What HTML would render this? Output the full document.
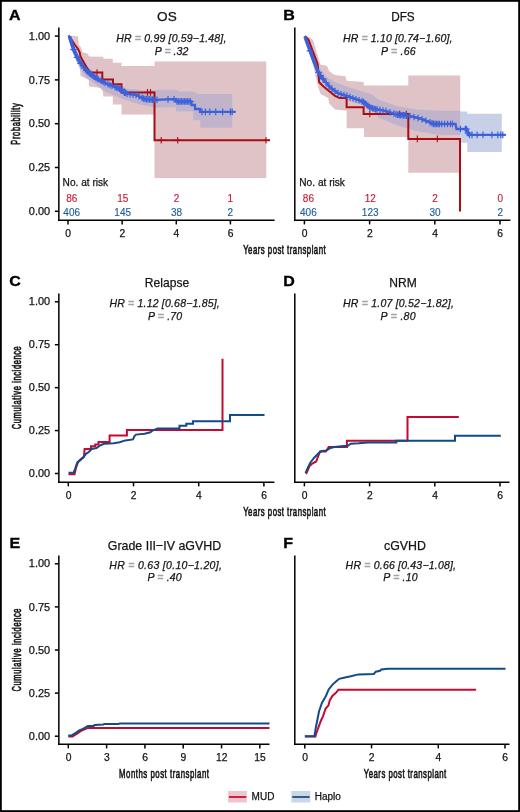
<!DOCTYPE html>
<html><head><meta charset="utf-8"><style>
html,body{margin:0;padding:0;background:#fff;}
svg{display:block;font-family:"Liberation Sans", sans-serif;will-change:transform;}
</style></head><body>
<svg width="520" height="812" viewBox="0 0 520 812">
<rect x="0" y="0" width="520" height="812" fill="#fff"/>
<text x="9.0" y="20.3" font-size="15.4" text-anchor="start" fill="#000" font-weight="bold" font-style="normal"  stroke="#000" stroke-width="0.35" transform="translate(9.0,20.3) scale(1.04,1) translate(-9.0,-20.3)">A</text>
<text x="283.2" y="20.2" font-size="15.4" text-anchor="start" fill="#000" font-weight="bold" font-style="normal"  stroke="#000" stroke-width="0.35" transform="translate(283.2,20.2) scale(1.04,1) translate(-283.2,-20.2)">B</text>
<text x="9.2" y="285.9" font-size="15.4" text-anchor="start" fill="#000" font-weight="bold" font-style="normal"  stroke="#000" stroke-width="0.35" transform="translate(9.2,285.9) scale(1.04,1) translate(-9.2,-285.9)">C</text>
<text x="283.2" y="285.9" font-size="15.4" text-anchor="start" fill="#000" font-weight="bold" font-style="normal"  stroke="#000" stroke-width="0.35" transform="translate(283.2,285.9) scale(1.04,1) translate(-283.2,-285.9)">D</text>
<text x="9.6" y="547.9" font-size="15.4" text-anchor="start" fill="#000" font-weight="bold" font-style="normal"  stroke="#000" stroke-width="0.35" transform="translate(9.6,547.9) scale(1.04,1) translate(-9.6,-547.9)">E</text>
<text x="283.2" y="547.9" font-size="15.4" text-anchor="start" fill="#000" font-weight="bold" font-style="normal"  stroke="#000" stroke-width="0.35" transform="translate(283.2,547.9) scale(1.04,1) translate(-283.2,-547.9)">F</text>
<text x="166.9" y="21.4" font-size="13.6" text-anchor="middle" fill="#141414" font-weight="normal" font-style="normal" stroke="#141414" stroke-width="0.25" >OS</text>
<text x="402.9" y="21.4" font-size="13.6" text-anchor="middle" fill="#141414" font-weight="normal" font-style="normal" stroke="#141414" stroke-width="0.25" textLength="23.5" lengthAdjust="spacingAndGlyphs">DFS</text>
<text x="167.0" y="286.7" font-size="13.6" text-anchor="middle" fill="#141414" font-weight="normal" font-style="normal" stroke="#141414" stroke-width="0.25" textLength="44.3" lengthAdjust="spacingAndGlyphs">Relapse</text>
<text x="403.0" y="286.7" font-size="13.6" text-anchor="middle" fill="#141414" font-weight="normal" font-style="normal" stroke="#141414" stroke-width="0.25" textLength="27.5" lengthAdjust="spacingAndGlyphs">NRM</text>
<text x="164.5" y="549.9" font-size="13.6" text-anchor="middle" fill="#141414" font-weight="normal" font-style="normal" stroke="#141414" stroke-width="0.25" textLength="113.5" lengthAdjust="spacingAndGlyphs">Grade III−IV aGVHD</text>
<text x="405.0" y="549.7" font-size="13.6" text-anchor="middle" fill="#141414" font-weight="normal" font-style="normal" stroke="#141414" stroke-width="0.25" textLength="42.0" lengthAdjust="spacingAndGlyphs">cGVHD</text>
<text x="171.3" y="41.8" font-size="10.5" text-anchor="middle" fill="#141414" font-weight="normal" font-style="italic" stroke="#141414" stroke-width="0.25" textLength="110.2" lengthAdjust="spacing">HR <tspan fill="#a4a4a4" stroke="#a4a4a4" stroke-width="0.5">=</tspan> 0.99 [0.59−1.48],</text>
<text x="171.5" y="55.0" font-size="10.5" text-anchor="middle" fill="#141414" font-weight="normal" font-style="italic" stroke="#141414" stroke-width="0.25" textLength="33.5" lengthAdjust="spacing">P <tspan fill="#a4a4a4" stroke="#a4a4a4" stroke-width="0.5">=</tspan> .32</text>
<text x="397.7" y="41.8" font-size="10.5" text-anchor="middle" fill="#141414" font-weight="normal" font-style="italic" stroke="#141414" stroke-width="0.25" textLength="109.5" lengthAdjust="spacing">HR <tspan fill="#a4a4a4" stroke="#a4a4a4" stroke-width="0.5">=</tspan> 1.10 [0.74−1.60],</text>
<text x="398.3" y="55.0" font-size="10.5" text-anchor="middle" fill="#141414" font-weight="normal" font-style="italic" stroke="#141414" stroke-width="0.25" textLength="34.5" lengthAdjust="spacing">P <tspan fill="#a4a4a4" stroke="#a4a4a4" stroke-width="0.5">=</tspan> .66</text>
<text x="164.6" y="307.4" font-size="10.5" text-anchor="middle" fill="#141414" font-weight="normal" font-style="italic" stroke="#141414" stroke-width="0.25" textLength="110.3" lengthAdjust="spacing">HR <tspan fill="#a4a4a4" stroke="#a4a4a4" stroke-width="0.5">=</tspan> 1.12 [0.68−1.85],</text>
<text x="165.0" y="320.4" font-size="10.5" text-anchor="middle" fill="#141414" font-weight="normal" font-style="italic" stroke="#141414" stroke-width="0.25" textLength="34.2" lengthAdjust="spacing">P <tspan fill="#a4a4a4" stroke="#a4a4a4" stroke-width="0.5">=</tspan> .70</text>
<text x="398.4" y="307.4" font-size="10.5" text-anchor="middle" fill="#141414" font-weight="normal" font-style="italic" stroke="#141414" stroke-width="0.25" textLength="111.0" lengthAdjust="spacing">HR <tspan fill="#a4a4a4" stroke="#a4a4a4" stroke-width="0.5">=</tspan> 1.07 [0.52−1.82],</text>
<text x="398.1" y="320.4" font-size="10.5" text-anchor="middle" fill="#141414" font-weight="normal" font-style="italic" stroke="#141414" stroke-width="0.25" textLength="35.0" lengthAdjust="spacing">P <tspan fill="#a4a4a4" stroke="#a4a4a4" stroke-width="0.5">=</tspan> .80</text>
<text x="165.6" y="568.8" font-size="10.5" text-anchor="middle" fill="#141414" font-weight="normal" font-style="italic" stroke="#141414" stroke-width="0.25" textLength="112.5" lengthAdjust="spacing">HR <tspan fill="#a4a4a4" stroke="#a4a4a4" stroke-width="0.5">=</tspan> 0.63 [0.10−1.20],</text>
<text x="164.5" y="581.3" font-size="10.5" text-anchor="middle" fill="#141414" font-weight="normal" font-style="italic" stroke="#141414" stroke-width="0.25" textLength="34.0" lengthAdjust="spacing">P <tspan fill="#a4a4a4" stroke="#a4a4a4" stroke-width="0.5">=</tspan> .40</text>
<text x="400.8" y="568.8" font-size="10.5" text-anchor="middle" fill="#141414" font-weight="normal" font-style="italic" stroke="#141414" stroke-width="0.25" textLength="110.4" lengthAdjust="spacing">HR <tspan fill="#a4a4a4" stroke="#a4a4a4" stroke-width="0.5">=</tspan> 0.66 [0.43−1.08],</text>
<text x="400.4" y="581.3" font-size="10.5" text-anchor="middle" fill="#141414" font-weight="normal" font-style="italic" stroke="#141414" stroke-width="0.25" textLength="34.2" lengthAdjust="spacing">P <tspan fill="#a4a4a4" stroke="#a4a4a4" stroke-width="0.5">=</tspan> .10</text>
<clipPath id="cpA"><polygon points="68.5,36.0 72.6,35.7 78.2,36.5 78.8,44.3 81.2,48.0 82.5,52.3 87.4,53.5 89.2,56.6 103.4,56.7 103.4,58.7 112.8,58.7 112.8,62.8 121.5,62.8 121.5,65.9 154.5,65.9 154.5,61.6 266.3,61.6 266.3,178.0 154.5,178.0 154.5,114.6 121.5,114.6 121.5,104.6 112.8,104.6 112.8,96.5 103.4,96.5 103.4,97.0 102.7,90.0 100.4,87.7 88.8,86.5 88.8,80.0 81.3,76.2 80.6,76.3 80.0,67.7 76.0,58.0 72.0,47.0 69.5,39.0" fill="#000" /></clipPath>
<polygon points="68.5,36.0 72.6,35.7 78.2,36.5 78.8,44.3 81.2,48.0 82.5,52.3 87.4,53.5 89.2,56.6 103.4,56.7 103.4,58.7 112.8,58.7 112.8,62.8 121.5,62.8 121.5,65.9 154.5,65.9 154.5,61.6 266.3,61.6 266.3,178.0 154.5,178.0 154.5,114.6 121.5,114.6 121.5,104.6 112.8,104.6 112.8,96.5 103.4,96.5 103.4,97.0 102.7,90.0 100.4,87.7 88.8,86.5 88.8,80.0 81.3,76.2 80.6,76.3 80.0,67.7 76.0,58.0 72.0,47.0 69.5,39.0" fill="#e0c3c6" />
<polygon points="68.8,35.5 72.0,43.0 76.0,51.0 80.0,58.0 85.0,64.0 90.0,69.0 100.0,75.5 113.5,83.0 127.3,88.8 144.6,90.6 162.0,89.7 176.0,89.7 179.0,91.5 192.5,91.5 198.4,93.9 232.3,93.9 232.3,127.8 200.2,127.8 200.2,120.2 193.3,120.2 193.3,111.5 176.0,111.5 176.0,107.2 156.0,107.8 139.8,104.4 126.4,100.4 113.0,95.0 103.5,91.0 94.0,82.9 86.0,77.5 80.0,69.0 76.0,61.0 72.0,51.0 69.5,41.0" fill="#c8d0e8" />
<polygon points="68.8,35.5 72.0,43.0 76.0,51.0 80.0,58.0 85.0,64.0 90.0,69.0 100.0,75.5 113.5,83.0 127.3,88.8 144.6,90.6 162.0,89.7 176.0,89.7 179.0,91.5 192.5,91.5 198.4,93.9 232.3,93.9 232.3,127.8 200.2,127.8 200.2,120.2 193.3,120.2 193.3,111.5 176.0,111.5 176.0,107.2 156.0,107.8 139.8,104.4 126.4,100.4 113.0,95.0 103.5,91.0 94.0,82.9 86.0,77.5 80.0,69.0 76.0,61.0 72.0,51.0 69.5,41.0" fill="#c1b4ca" clip-path="url(#cpA)"/>
<polyline points="68.8,35.5 71.6,39.7 75.0,45.0 78.1,49.0 79.8,52.8 80.5,56.6 82.7,60.5 84.9,64.3 87.1,68.2 89.4,71.2 91.0,72.5 102.3,72.5 102.3,79.5 113.0,79.5 113.0,84.2 121.5,84.2 121.5,92.4 154.5,92.4 154.5,140.2 270.0,140.2" fill="none" stroke="#a80d13" stroke-width="2" stroke-linejoin="miter" stroke-linecap="butt" />
<path d="M97.0,69.2V75.8M93.7,72.5H100.3M124.5,89.1V95.7M121.2,92.4H127.8M147.5,89.1V95.7M144.2,92.4H150.8M150.5,89.1V95.7M147.2,92.4H153.8M161.2,136.9V143.5M157.9,140.2H164.5M177.7,136.9V143.5M174.4,140.2H181.0M266.0,136.9V143.5M262.7,140.2H269.3" stroke="#a80d13" stroke-width="1.1" fill="none"/>
<polyline points="68.8,35.5 71.4,44.3 74.5,52.3 78.2,59.7 82.5,66.5 87.4,71.4 91.7,75.1 95.4,77.5 100.0,80.3 106.0,83.5 113.5,86.3 120.0,89.0 127.3,94.0 136.0,94.9 144.6,99.0 155.0,99.8 167.0,99.4 176.0,99.2 176.0,101.5 191.5,101.5 191.5,105.0 195.0,105.0 195.0,109.0 200.2,109.0 200.2,111.9 235.6,111.9" fill="none" stroke="#3b62dc" stroke-width="2.3" stroke-linejoin="miter" stroke-linecap="butt" />
<polyline points="69.6,36.5 71.7,43.5 74.8,52.0 78.6,59.7 82.5,65.8 87.0,71.2 91.7,75.0 97.0,79.0 101.0,81.0" fill="none" stroke="#3b62dc" stroke-width="3.6" stroke-linejoin="miter" stroke-linecap="butt" stroke-linecap="round"/>
<path d="M73.5,46.4V53.0M70.2,49.7H76.8M77.0,54.0V60.6M73.7,57.3H80.3M80.5,60.0V66.6M77.2,63.3H83.8M84.0,64.7V71.3M80.7,68.0H87.3M86.5,67.2V73.8M83.2,70.5H89.8M88.0,68.6V75.2M84.7,71.9H91.3M90.0,70.3V76.9M86.7,73.6H93.3M92.0,72.0V78.6M88.7,75.3H95.3M94.0,73.3V79.9M90.7,76.6H97.3M96.0,74.6V81.2M92.7,77.9H99.3M98.0,75.8V82.4M94.7,79.1H101.3M101.0,77.5V84.1M97.7,80.8H104.3M103.0,78.6V85.2M99.7,81.9H106.3M105.0,79.7V86.3M101.7,83.0H108.3M108.0,80.9V87.5M104.7,84.2H111.3M110.0,81.7V88.3M106.7,85.0H113.3M112.0,82.4V89.0M108.7,85.7H115.3M115.0,83.6V90.2M111.7,86.9H118.3M116.5,84.2V90.8M113.2,87.5H119.8M118.0,84.9V91.5M114.7,88.2H121.3M119.5,85.5V92.1M116.2,88.8H122.8M121.0,86.4V93.0M117.7,89.7H124.3M122.5,87.4V94.0M119.2,90.7H125.8M124.0,88.4V95.0M120.7,91.7H127.3M125.5,89.5V96.1M122.2,92.8H128.8M127.0,90.5V97.1M123.7,93.8H130.3M130.0,91.0V97.6M126.7,94.3H133.3M133.0,91.3V97.9M129.7,94.6H136.3M136.0,91.6V98.2M132.7,94.9H139.3M139.0,93.0V99.6M135.7,96.3H142.3M142.0,94.5V101.1M138.7,97.8H145.3M143.5,95.2V101.8M140.2,98.5H146.8M145.0,95.7V102.3M141.7,99.0H148.3M146.5,95.8V102.4M143.2,99.1H149.8M148.0,96.0V102.6M144.7,99.3H151.3M149.5,96.1V102.7M146.2,99.4H152.8M151.0,96.2V102.8M147.7,99.5H154.3M152.5,96.3V102.9M149.2,99.6H155.8M154.0,96.4V103.0M150.7,99.7H157.3M157.0,96.4V103.0M153.7,99.7H160.3M168.0,96.1V102.7M164.7,99.4H171.3M174.0,95.9V102.5M170.7,99.2H177.3M177.0,98.2V104.8M173.7,101.5H180.3M178.5,98.2V104.8M175.2,101.5H181.8M180.0,98.2V104.8M176.7,101.5H183.3M181.5,98.2V104.8M178.2,101.5H184.8M183.0,98.2V104.8M179.7,101.5H186.3M184.5,98.2V104.8M181.2,101.5H187.8M186.0,98.2V104.8M182.7,101.5H189.3M187.5,98.2V104.8M184.2,101.5H190.8M189.0,98.2V104.8M185.7,101.5H192.3M190.5,98.2V104.8M187.2,101.5H193.8M202.0,108.6V115.2M198.7,111.9H205.3M205.4,108.6V115.2M202.1,111.9H208.7M209.7,108.6V115.2M206.4,111.9H213.0M215.7,108.6V115.2M212.4,111.9H219.0M222.7,108.6V115.2M219.4,111.9H226.0M230.4,108.6V115.2M227.1,111.9H233.7M232.2,108.6V115.2M228.9,111.9H235.5" stroke="#3b62dc" stroke-width="1.2" fill="none"/>
<clipPath id="cpB"><polygon points="305.0,36.0 309.2,37.0 313.0,40.0 315.4,47.4 317.8,55.4 320.3,64.6 327.0,65.8 329.3,71.5 335.0,75.0 345.5,76.2 346.6,80.8 363.6,81.9 364.0,85.4 408.3,85.4 408.3,75.4 460.2,75.4 460.2,172.8 408.3,172.8 408.3,137.0 364.0,137.0 364.0,128.3 346.6,128.3 346.6,110.8 335.0,109.6 329.3,103.8 328.2,98.1 320.5,94.0 318.5,88.0 316.0,78.0 314.3,70.0 312.0,61.0 309.0,50.0 306.5,41.0" fill="#000" /></clipPath>
<polygon points="305.0,36.0 309.2,37.0 313.0,40.0 315.4,47.4 317.8,55.4 320.3,64.6 327.0,65.8 329.3,71.5 335.0,75.0 345.5,76.2 346.6,80.8 363.6,81.9 364.0,85.4 408.3,85.4 408.3,75.4 460.2,75.4 460.2,172.8 408.3,172.8 408.3,137.0 364.0,137.0 364.0,128.3 346.6,128.3 346.6,110.8 335.0,109.6 329.3,103.8 328.2,98.1 320.5,94.0 318.5,88.0 316.0,78.0 314.3,70.0 312.0,61.0 309.0,50.0 306.5,41.0" fill="#e0c3c6" />
<polygon points="305.0,36.0 309.0,44.0 312.5,53.0 316.0,62.0 320.0,68.5 327.0,77.3 335.0,81.9 346.6,86.5 358.2,90.0 372.0,94.6 378.5,99.4 397.7,106.2 417.0,109.5 440.0,110.8 460.4,110.8 460.4,111.5 467.3,111.5 467.3,113.7 501.8,113.7 501.8,152.0 467.3,152.0 467.3,142.8 460.4,142.8 460.4,135.0 440.0,135.0 417.0,131.2 397.7,125.4 378.5,117.7 372.0,108.5 358.2,103.8 346.6,100.4 329.3,90.0 322.0,82.0 318.0,75.0 314.0,66.0 310.0,54.0 306.0,42.0" fill="#c8d0e8" />
<polygon points="305.0,36.0 309.0,44.0 312.5,53.0 316.0,62.0 320.0,68.5 327.0,77.3 335.0,81.9 346.6,86.5 358.2,90.0 372.0,94.6 378.5,99.4 397.7,106.2 417.0,109.5 440.0,110.8 460.4,110.8 460.4,111.5 467.3,111.5 467.3,113.7 501.8,113.7 501.8,152.0 467.3,152.0 467.3,142.8 460.4,142.8 460.4,135.0 440.0,135.0 417.0,131.2 397.7,125.4 378.5,117.7 372.0,108.5 358.2,103.8 346.6,100.4 329.3,90.0 322.0,82.0 318.0,75.0 314.0,66.0 310.0,54.0 306.0,42.0" fill="#c1b4ca" clip-path="url(#cpB)"/>
<polyline points="305.0,36.0 308.6,40.0 311.6,48.0 314.4,55.4 316.2,60.0 317.6,64.0 319.2,82.2 323.5,86.5 329.3,91.2 335.0,95.8 339.7,98.1 346.6,98.1 346.6,107.3 363.6,107.3 363.6,114.0 408.3,114.0 408.3,138.9 460.0,138.9 460.0,211.5" fill="none" stroke="#a80d13" stroke-width="2" stroke-linejoin="miter" stroke-linecap="butt" />
<path d="M369.8,110.7V117.3M366.5,114.0H373.1M399.6,110.7V117.3M396.3,114.0H402.9M406.3,110.7V117.3M403.0,114.0H409.6M417.3,135.6V142.2M414.0,138.9H420.6M437.3,135.6V142.2M434.0,138.9H440.6" stroke="#a80d13" stroke-width="1.1" fill="none"/>
<polyline points="304.6,36.3 307.9,45.2 311.1,53.9 314.4,62.8 317.8,71.2 320.5,75.6 323.5,79.6 330.5,87.7 338.5,93.5 346.6,95.8 355.8,99.2 362.8,101.5 369.7,107.3 374.6,109.0 386.0,111.0 397.7,114.8 409.2,115.8 420.8,118.7 427.9,121.5 433.8,124.0 455.5,124.0 456.5,129.0 467.3,129.0 468.3,134.9 505.7,134.9" fill="none" stroke="#3b62dc" stroke-width="2.3" stroke-linejoin="miter" stroke-linecap="butt" />
<polyline points="305.0,37.0 307.9,45.2 311.1,53.9 314.4,62.8 317.8,71.2 320.5,75.6 323.5,79.6" fill="none" stroke="#3b62dc" stroke-width="3.2" stroke-linejoin="miter" stroke-linecap="butt" stroke-linecap="round"/>
<path d="M310.0,47.6V54.2M306.7,50.9H313.3M318.5,69.0V75.6M315.2,72.3H321.8M320.5,72.3V78.9M317.2,75.6H323.8M323.0,75.6V82.2M319.7,78.9H326.3M326.0,79.2V85.8M322.7,82.5H329.3M329.0,82.7V89.3M325.7,86.0H332.3M332.0,85.5V92.1M328.7,88.8H335.3M335.0,87.7V94.3M331.7,91.0H338.3M338.0,89.8V96.4M334.7,93.1H341.3M341.0,90.9V97.5M337.7,94.2H344.3M344.0,91.8V98.4M340.7,95.1H347.3M347.0,92.6V99.2M343.7,95.9H350.3M350.0,93.8V100.4M346.7,97.1H353.3M353.0,94.9V101.5M349.7,98.2H356.3M356.0,96.0V102.6M352.7,99.3H359.3M359.0,97.0V103.6M355.7,100.3H362.3M362.0,97.9V104.5M358.7,101.2H365.3M363.5,98.8V105.4M360.2,102.1H366.8M365.0,100.0V106.6M361.7,103.3H368.3M366.5,101.3V107.9M363.2,104.6H369.8M368.0,102.6V109.2M364.7,105.9H371.3M369.5,103.8V110.4M366.2,107.1H372.8M371.0,104.5V111.1M367.7,107.8H374.3M372.5,105.0V111.6M369.2,108.3H375.8M374.0,105.5V112.1M370.7,108.8H377.3M375.5,105.9V112.5M372.2,109.2H378.8M377.0,106.1V112.7M373.7,109.4H380.3M380.0,106.6V113.2M376.7,109.9H383.3M383.0,107.2V113.8M379.7,110.5H386.3M386.0,107.7V114.3M382.7,111.0H389.3M390.0,109.0V115.6M386.7,112.3H393.3M394.0,110.3V116.9M390.7,113.6H397.3M396.0,110.9V117.5M392.7,114.2H399.3M397.5,111.4V118.0M394.2,114.7H400.8M399.0,111.6V118.2M395.7,114.9H402.3M400.5,111.7V118.3M397.2,115.0H403.8M402.0,111.9V118.5M398.7,115.2H405.3M403.5,112.0V118.6M400.2,115.3H406.8M405.0,112.1V118.7M401.7,115.4H408.3M406.5,112.3V118.9M403.2,115.6H409.8M410.0,112.7V119.3M406.7,116.0H413.3M414.0,113.7V120.3M410.7,117.0H417.3M418.0,114.7V121.3M414.7,118.0H421.3M422.0,115.9V122.5M418.7,119.2H425.3M426.0,117.5V124.1M422.7,120.8H429.3M430.0,119.1V125.7M426.7,122.4H433.3M432.0,119.9V126.5M428.7,123.2H435.3M433.5,120.6V127.2M430.2,123.9H436.8M435.0,120.7V127.3M431.7,124.0H438.3M436.5,120.7V127.3M433.2,124.0H439.8M438.0,120.7V127.3M434.7,124.0H441.3M439.5,120.7V127.3M436.2,124.0H442.8M441.7,120.7V127.3M438.4,124.0H445.0M444.6,120.7V127.3M441.3,124.0H447.9M447.6,120.7V127.3M444.3,124.0H450.9M450.5,120.7V127.3M447.2,124.0H453.8M452.5,120.7V127.3M449.2,124.0H455.8M460.4,125.7V132.3M457.1,129.0H463.7M465.3,125.7V132.3M462.0,129.0H468.6M466.5,125.7V132.3M463.2,129.0H469.8M468.0,129.8V136.4M464.7,133.1H471.3M469.5,131.6V138.2M466.2,134.9H472.8M472.0,131.6V138.2M468.7,134.9H475.3M477.1,131.6V138.2M473.8,134.9H480.4M483.0,131.6V138.2M479.7,134.9H486.3M491.9,131.6V138.2M488.6,134.9H495.2M497.8,131.6V138.2M494.5,134.9H501.1M500.8,131.6V138.2M497.5,134.9H504.1M502.8,131.6V138.2M499.5,134.9H506.1" stroke="#3b62dc" stroke-width="1.2" fill="none"/>
<polyline points="68.5,474.2 74.5,474.2 76.0,468.0 78.3,461.5 81.2,458.7 84.0,456.7 84.6,449.0 91.0,449.0 91.0,446.2 95.2,446.2 95.2,444.6 98.5,444.6 98.5,442.0 109.6,442.0 109.6,435.6 126.9,435.6 126.9,430.0 222.5,430.0 222.5,358.7" fill="none" stroke="#c20a32" stroke-width="2.0" stroke-linejoin="miter" stroke-linecap="butt" />
<polyline points="68.5,472.8 73.5,472.8 75.0,469.0 77.3,462.5 79.2,461.2 83.0,457.7 86.0,453.8 88.8,452.0 91.7,449.0 96.5,448.0 100.4,445.2 104.2,443.8 113.8,443.3 119.6,442.3 125.4,440.4 133.0,439.4 134.5,436.0 136.0,434.6 144.6,433.7 150.4,432.3 152.5,430.5 157.5,428.5 179.5,428.5 179.5,425.8 186.3,425.8 186.3,423.8 193.0,423.8 193.0,421.3 230.0,421.3 230.0,415.0 264.5,415.0" fill="none" stroke="#114b88" stroke-width="2.0" stroke-linejoin="miter" stroke-linecap="butt" />
<polyline points="305.6,473.6 306.5,473.0 309.4,466.3 312.3,463.5 316.2,461.5 318.0,456.7 320.0,451.5 325.8,451.5 328.7,447.1 346.9,447.1 346.9,440.8 407.5,440.8 407.5,417.0 458.8,417.0" fill="none" stroke="#c20a32" stroke-width="2.0" stroke-linejoin="miter" stroke-linecap="butt" />
<polyline points="305.6,473.0 307.5,468.3 310.4,462.5 314.2,457.7 319.0,452.9 321.9,451.0 326.7,450.4 330.6,448.0 334.4,447.1 341.2,446.2 347.9,445.8 350.8,443.8 358.5,443.3 368.0,442.4 396.3,442.4 396.3,440.8 455.0,440.8 455.0,435.8 500.8,435.8" fill="none" stroke="#114b88" stroke-width="2.0" stroke-linejoin="miter" stroke-linecap="butt" />
<polyline points="68.3,736.4 72.5,736.4 75.4,734.6 78.3,733.0 81.2,730.8 85.0,729.2 87.9,727.9 269.5,727.9" fill="none" stroke="#c20a32" stroke-width="2.0" stroke-linejoin="miter" stroke-linecap="butt" />
<polyline points="68.3,735.6 71.5,735.6 74.4,733.7 79.2,730.4 83.0,728.8 87.9,726.0 93.7,726.0 94.6,725.0 103.3,724.6 104.2,724.0 118.7,724.0 119.6,723.4 269.5,723.4" fill="none" stroke="#114b88" stroke-width="2.0" stroke-linejoin="miter" stroke-linecap="butt" />
<polyline points="305.0,736.6 315.4,736.6 316.0,734.2 318.6,726.9 321.2,720.0 322.9,716.6 325.5,708.8 328.5,705.3 329.8,700.2 332.4,695.9 335.9,692.8 338.4,689.8 476.1,689.8" fill="none" stroke="#c20a32" stroke-width="2.0" stroke-linejoin="miter" stroke-linecap="butt" />
<polyline points="304.8,736.2 314.4,736.2 315.8,727.7 317.1,721.2 319.0,711.5 321.9,702.9 325.8,696.2 328.7,689.4 332.5,684.6 336.3,681.2 339.2,678.8 345.0,677.5 350.8,676.3 358.5,674.4 373.8,674.0 375.8,671.7 380.0,670.8 381.3,669.5 387.8,668.7 505.5,668.7" fill="none" stroke="#114b88" stroke-width="2.0" stroke-linejoin="miter" stroke-linecap="butt" />
<line x1="58.85" y1="27.4" x2="58.85" y2="220.95" stroke="#000" stroke-width="1.5"/>
<line x1="58.1" y1="220.2" x2="274.6" y2="220.2" stroke="#000" stroke-width="1.5"/>
<line x1="68.0" y1="220.2" x2="68.0" y2="224.39999999999998" stroke="#000" stroke-width="1.5"/>
<text x="68.2" y="237.0" font-size="10.3" text-anchor="middle" fill="#141414" font-weight="normal" font-style="normal" stroke="#141414" stroke-width="0.25" >0</text>
<line x1="122.14" y1="220.2" x2="122.14" y2="224.39999999999998" stroke="#000" stroke-width="1.5"/>
<text x="122.34" y="237.0" font-size="10.3" text-anchor="middle" fill="#141414" font-weight="normal" font-style="normal" stroke="#141414" stroke-width="0.25" >2</text>
<line x1="176.28" y1="220.2" x2="176.28" y2="224.39999999999998" stroke="#000" stroke-width="1.5"/>
<text x="176.48" y="237.0" font-size="10.3" text-anchor="middle" fill="#141414" font-weight="normal" font-style="normal" stroke="#141414" stroke-width="0.25" >4</text>
<line x1="230.42000000000002" y1="220.2" x2="230.42000000000002" y2="224.39999999999998" stroke="#000" stroke-width="1.5"/>
<text x="230.62" y="237.0" font-size="10.3" text-anchor="middle" fill="#141414" font-weight="normal" font-style="normal" stroke="#141414" stroke-width="0.25" >6</text>
<line x1="54.85" y1="36.099999999999994" x2="58.85" y2="36.099999999999994" stroke="#000" stroke-width="1.5"/>
<text x="50.150000000000006" y="39.699999999999996" font-size="10.6" text-anchor="end" fill="#141414" font-weight="normal" font-style="normal" stroke="#141414" stroke-width="0.25" textLength="21.3" lengthAdjust="spacingAndGlyphs">1.00</text>
<line x1="54.85" y1="79.9" x2="58.85" y2="79.9" stroke="#000" stroke-width="1.5"/>
<text x="50.150000000000006" y="83.5" font-size="10.6" text-anchor="end" fill="#141414" font-weight="normal" font-style="normal" stroke="#141414" stroke-width="0.25" textLength="21.3" lengthAdjust="spacingAndGlyphs">0.75</text>
<line x1="54.85" y1="123.7" x2="58.85" y2="123.7" stroke="#000" stroke-width="1.5"/>
<text x="50.150000000000006" y="127.3" font-size="10.6" text-anchor="end" fill="#141414" font-weight="normal" font-style="normal" stroke="#141414" stroke-width="0.25" textLength="21.3" lengthAdjust="spacingAndGlyphs">0.50</text>
<line x1="54.85" y1="167.5" x2="58.85" y2="167.5" stroke="#000" stroke-width="1.5"/>
<text x="50.150000000000006" y="171.1" font-size="10.6" text-anchor="end" fill="#141414" font-weight="normal" font-style="normal" stroke="#141414" stroke-width="0.25" textLength="21.3" lengthAdjust="spacingAndGlyphs">0.25</text>
<line x1="54.85" y1="211.3" x2="58.85" y2="211.3" stroke="#000" stroke-width="1.5"/>
<text x="50.150000000000006" y="214.9" font-size="10.6" text-anchor="end" fill="#141414" font-weight="normal" font-style="normal" stroke="#141414" stroke-width="0.25" textLength="21.3" lengthAdjust="spacingAndGlyphs">0.00</text>
<line x1="294.8" y1="27.4" x2="294.8" y2="220.95" stroke="#000" stroke-width="1.5"/>
<line x1="294.05" y1="220.2" x2="510.4" y2="220.2" stroke="#000" stroke-width="1.5"/>
<line x1="304.4" y1="220.2" x2="304.4" y2="224.39999999999998" stroke="#000" stroke-width="1.5"/>
<text x="304.59999999999997" y="237.0" font-size="10.3" text-anchor="middle" fill="#141414" font-weight="normal" font-style="normal" stroke="#141414" stroke-width="0.25" >0</text>
<line x1="369.59999999999997" y1="220.2" x2="369.59999999999997" y2="224.39999999999998" stroke="#000" stroke-width="1.5"/>
<text x="369.79999999999995" y="237.0" font-size="10.3" text-anchor="middle" fill="#141414" font-weight="normal" font-style="normal" stroke="#141414" stroke-width="0.25" >2</text>
<line x1="434.79999999999995" y1="220.2" x2="434.79999999999995" y2="224.39999999999998" stroke="#000" stroke-width="1.5"/>
<text x="434.99999999999994" y="237.0" font-size="10.3" text-anchor="middle" fill="#141414" font-weight="normal" font-style="normal" stroke="#141414" stroke-width="0.25" >4</text>
<line x1="500.0" y1="220.2" x2="500.0" y2="224.39999999999998" stroke="#000" stroke-width="1.5"/>
<text x="500.2" y="237.0" font-size="10.3" text-anchor="middle" fill="#141414" font-weight="normal" font-style="normal" stroke="#141414" stroke-width="0.25" >6</text>
<line x1="58.85" y1="293.4" x2="58.85" y2="482.95" stroke="#000" stroke-width="1.5"/>
<line x1="58.1" y1="482.2" x2="274.4" y2="482.2" stroke="#000" stroke-width="1.5"/>
<line x1="68.3" y1="482.2" x2="68.3" y2="486.4" stroke="#000" stroke-width="1.5"/>
<text x="68.5" y="499.0" font-size="10.3" text-anchor="middle" fill="#141414" font-weight="normal" font-style="normal" stroke="#141414" stroke-width="0.25" >0</text>
<line x1="133.5" y1="482.2" x2="133.5" y2="486.4" stroke="#000" stroke-width="1.5"/>
<text x="133.7" y="499.0" font-size="10.3" text-anchor="middle" fill="#141414" font-weight="normal" font-style="normal" stroke="#141414" stroke-width="0.25" >2</text>
<line x1="198.7" y1="482.2" x2="198.7" y2="486.4" stroke="#000" stroke-width="1.5"/>
<text x="198.89999999999998" y="499.0" font-size="10.3" text-anchor="middle" fill="#141414" font-weight="normal" font-style="normal" stroke="#141414" stroke-width="0.25" >4</text>
<line x1="263.90000000000003" y1="482.2" x2="263.90000000000003" y2="486.4" stroke="#000" stroke-width="1.5"/>
<text x="264.1" y="499.0" font-size="10.3" text-anchor="middle" fill="#141414" font-weight="normal" font-style="normal" stroke="#141414" stroke-width="0.25" >6</text>
<line x1="54.85" y1="301.8" x2="58.85" y2="301.8" stroke="#000" stroke-width="1.5"/>
<text x="50.150000000000006" y="305.40000000000003" font-size="10.6" text-anchor="end" fill="#141414" font-weight="normal" font-style="normal" stroke="#141414" stroke-width="0.25" textLength="21.3" lengthAdjust="spacingAndGlyphs">1.00</text>
<line x1="54.85" y1="344.725" x2="58.85" y2="344.725" stroke="#000" stroke-width="1.5"/>
<text x="50.150000000000006" y="348.32500000000005" font-size="10.6" text-anchor="end" fill="#141414" font-weight="normal" font-style="normal" stroke="#141414" stroke-width="0.25" textLength="21.3" lengthAdjust="spacingAndGlyphs">0.75</text>
<line x1="54.85" y1="387.65" x2="58.85" y2="387.65" stroke="#000" stroke-width="1.5"/>
<text x="50.150000000000006" y="391.25" font-size="10.6" text-anchor="end" fill="#141414" font-weight="normal" font-style="normal" stroke="#141414" stroke-width="0.25" textLength="21.3" lengthAdjust="spacingAndGlyphs">0.50</text>
<line x1="54.85" y1="430.575" x2="58.85" y2="430.575" stroke="#000" stroke-width="1.5"/>
<text x="50.150000000000006" y="434.175" font-size="10.6" text-anchor="end" fill="#141414" font-weight="normal" font-style="normal" stroke="#141414" stroke-width="0.25" textLength="21.3" lengthAdjust="spacingAndGlyphs">0.25</text>
<line x1="54.85" y1="473.5" x2="58.85" y2="473.5" stroke="#000" stroke-width="1.5"/>
<text x="50.150000000000006" y="477.1" font-size="10.6" text-anchor="end" fill="#141414" font-weight="normal" font-style="normal" stroke="#141414" stroke-width="0.25" textLength="21.3" lengthAdjust="spacingAndGlyphs">0.00</text>
<line x1="294.8" y1="293.4" x2="294.8" y2="482.95" stroke="#000" stroke-width="1.5"/>
<line x1="294.05" y1="482.2" x2="509.5" y2="482.2" stroke="#000" stroke-width="1.5"/>
<line x1="304.4" y1="482.2" x2="304.4" y2="486.4" stroke="#000" stroke-width="1.5"/>
<text x="304.59999999999997" y="499.0" font-size="10.3" text-anchor="middle" fill="#141414" font-weight="normal" font-style="normal" stroke="#141414" stroke-width="0.25" >0</text>
<line x1="369.59999999999997" y1="482.2" x2="369.59999999999997" y2="486.4" stroke="#000" stroke-width="1.5"/>
<text x="369.79999999999995" y="499.0" font-size="10.3" text-anchor="middle" fill="#141414" font-weight="normal" font-style="normal" stroke="#141414" stroke-width="0.25" >2</text>
<line x1="434.79999999999995" y1="482.2" x2="434.79999999999995" y2="486.4" stroke="#000" stroke-width="1.5"/>
<text x="434.99999999999994" y="499.0" font-size="10.3" text-anchor="middle" fill="#141414" font-weight="normal" font-style="normal" stroke="#141414" stroke-width="0.25" >4</text>
<line x1="500.0" y1="482.2" x2="500.0" y2="486.4" stroke="#000" stroke-width="1.5"/>
<text x="500.2" y="499.0" font-size="10.3" text-anchor="middle" fill="#141414" font-weight="normal" font-style="normal" stroke="#141414" stroke-width="0.25" >6</text>
<line x1="58.85" y1="555.4" x2="58.85" y2="744.95" stroke="#000" stroke-width="1.5"/>
<line x1="58.1" y1="744.2" x2="269.5" y2="744.2" stroke="#000" stroke-width="1.5"/>
<line x1="68.3" y1="744.2" x2="68.3" y2="748.4000000000001" stroke="#000" stroke-width="1.5"/>
<text x="68.5" y="761.0" font-size="10.3" text-anchor="middle" fill="#141414" font-weight="normal" font-style="normal" stroke="#141414" stroke-width="0.25" >0</text>
<line x1="106.61" y1="744.2" x2="106.61" y2="748.4000000000001" stroke="#000" stroke-width="1.5"/>
<text x="106.81" y="761.0" font-size="10.3" text-anchor="middle" fill="#141414" font-weight="normal" font-style="normal" stroke="#141414" stroke-width="0.25" >3</text>
<line x1="144.92000000000002" y1="744.2" x2="144.92000000000002" y2="748.4000000000001" stroke="#000" stroke-width="1.5"/>
<text x="145.12" y="761.0" font-size="10.3" text-anchor="middle" fill="#141414" font-weight="normal" font-style="normal" stroke="#141414" stroke-width="0.25" >6</text>
<line x1="183.23" y1="744.2" x2="183.23" y2="748.4000000000001" stroke="#000" stroke-width="1.5"/>
<text x="183.42999999999998" y="761.0" font-size="10.3" text-anchor="middle" fill="#141414" font-weight="normal" font-style="normal" stroke="#141414" stroke-width="0.25" >9</text>
<line x1="221.54000000000002" y1="744.2" x2="221.54000000000002" y2="748.4000000000001" stroke="#000" stroke-width="1.5"/>
<text x="221.74" y="761.0" font-size="10.3" text-anchor="middle" fill="#141414" font-weight="normal" font-style="normal" stroke="#141414" stroke-width="0.25" >12</text>
<line x1="259.84999999999997" y1="744.2" x2="259.84999999999997" y2="748.4000000000001" stroke="#000" stroke-width="1.5"/>
<text x="260.04999999999995" y="761.0" font-size="10.3" text-anchor="middle" fill="#141414" font-weight="normal" font-style="normal" stroke="#141414" stroke-width="0.25" >15</text>
<line x1="54.85" y1="563.8" x2="58.85" y2="563.8" stroke="#000" stroke-width="1.5"/>
<text x="50.150000000000006" y="567.4" font-size="10.6" text-anchor="end" fill="#141414" font-weight="normal" font-style="normal" stroke="#141414" stroke-width="0.25" textLength="21.3" lengthAdjust="spacingAndGlyphs">1.00</text>
<line x1="54.85" y1="606.9" x2="58.85" y2="606.9" stroke="#000" stroke-width="1.5"/>
<text x="50.150000000000006" y="610.5" font-size="10.6" text-anchor="end" fill="#141414" font-weight="normal" font-style="normal" stroke="#141414" stroke-width="0.25" textLength="21.3" lengthAdjust="spacingAndGlyphs">0.75</text>
<line x1="54.85" y1="650.0" x2="58.85" y2="650.0" stroke="#000" stroke-width="1.5"/>
<text x="50.150000000000006" y="653.6" font-size="10.6" text-anchor="end" fill="#141414" font-weight="normal" font-style="normal" stroke="#141414" stroke-width="0.25" textLength="21.3" lengthAdjust="spacingAndGlyphs">0.50</text>
<line x1="54.85" y1="693.1" x2="58.85" y2="693.1" stroke="#000" stroke-width="1.5"/>
<text x="50.150000000000006" y="696.7" font-size="10.6" text-anchor="end" fill="#141414" font-weight="normal" font-style="normal" stroke="#141414" stroke-width="0.25" textLength="21.3" lengthAdjust="spacingAndGlyphs">0.25</text>
<line x1="54.85" y1="736.2" x2="58.85" y2="736.2" stroke="#000" stroke-width="1.5"/>
<text x="50.150000000000006" y="739.8000000000001" font-size="10.6" text-anchor="end" fill="#141414" font-weight="normal" font-style="normal" stroke="#141414" stroke-width="0.25" textLength="21.3" lengthAdjust="spacingAndGlyphs">0.00</text>
<line x1="294.8" y1="555.4" x2="294.8" y2="744.95" stroke="#000" stroke-width="1.5"/>
<line x1="294.05" y1="744.2" x2="509.5" y2="744.2" stroke="#000" stroke-width="1.5"/>
<line x1="304.8" y1="744.2" x2="304.8" y2="748.4000000000001" stroke="#000" stroke-width="1.5"/>
<text x="305.0" y="761.0" font-size="10.3" text-anchor="middle" fill="#141414" font-weight="normal" font-style="normal" stroke="#141414" stroke-width="0.25" >0</text>
<line x1="371.54" y1="744.2" x2="371.54" y2="748.4000000000001" stroke="#000" stroke-width="1.5"/>
<text x="371.74" y="761.0" font-size="10.3" text-anchor="middle" fill="#141414" font-weight="normal" font-style="normal" stroke="#141414" stroke-width="0.25" >2</text>
<line x1="438.28" y1="744.2" x2="438.28" y2="748.4000000000001" stroke="#000" stroke-width="1.5"/>
<text x="438.47999999999996" y="761.0" font-size="10.3" text-anchor="middle" fill="#141414" font-weight="normal" font-style="normal" stroke="#141414" stroke-width="0.25" >4</text>
<line x1="505.02" y1="744.2" x2="505.02" y2="748.4000000000001" stroke="#000" stroke-width="1.5"/>
<text x="505.21999999999997" y="761.0" font-size="10.3" text-anchor="middle" fill="#141414" font-weight="normal" font-style="normal" stroke="#141414" stroke-width="0.25" >6</text>
<text x="0" y="0" font-size="12.5" text-anchor="middle" fill="#141414" stroke="#141414" stroke-width="0.7" transform="translate(20.4,124) rotate(-90) scale(0.6,1)" textLength="68.83" lengthAdjust="spacing">Probability</text>
<text x="0" y="0" font-size="12.5" text-anchor="middle" fill="#141414" stroke="#141414" stroke-width="0.7" transform="translate(20.8,387.7) rotate(-90) scale(0.6,1)" textLength="138.33" lengthAdjust="spacing">Cumulative incidence</text>
<text x="0" y="0" font-size="12.5" text-anchor="middle" fill="#141414" stroke="#141414" stroke-width="0.7" transform="translate(20.8,650) rotate(-90) scale(0.6,1)" textLength="138.33" lengthAdjust="spacing">Cumulative incidence</text>
<text x="0" y="0" font-size="13" text-anchor="middle" fill="#141414" stroke="#141414" stroke-width="0.65" transform="translate(284.4,253.6) scale(0.6,1)" textLength="137.50" lengthAdjust="spacing">Years post transplant</text>
<text x="0" y="0" font-size="13" text-anchor="middle" fill="#141414" stroke="#141414" stroke-width="0.65" transform="translate(284.4,516) scale(0.6,1)" textLength="137.50" lengthAdjust="spacing">Years post transplant</text>
<text x="0" y="0" font-size="13" text-anchor="middle" fill="#141414" stroke="#141414" stroke-width="0.65" transform="translate(164.0,777.9) scale(0.6,1)" textLength="150.00" lengthAdjust="spacing">Months post transplant</text>
<text x="0" y="0" font-size="13" text-anchor="middle" fill="#141414" stroke="#141414" stroke-width="0.65" transform="translate(405,777.9) scale(0.6,1)" textLength="137.50" lengthAdjust="spacing">Years post transplant</text>
<text x="62.6" y="186.2" font-size="10.5" text-anchor="start" fill="#141414" font-weight="normal" font-style="normal" stroke="#141414" stroke-width="0.25" textLength="45.6" lengthAdjust="spacingAndGlyphs">No. at risk</text>
<text x="299.3" y="186.2" font-size="10.5" text-anchor="start" fill="#141414" font-weight="normal" font-style="normal" stroke="#141414" stroke-width="0.25" textLength="45.6" lengthAdjust="spacingAndGlyphs">No. at risk</text>
<text x="71.7" y="201.8" font-size="10" text-anchor="middle" fill="#cc1a3a" font-weight="normal" font-style="normal" stroke="#cc1a3a" stroke-width="0.15" >86</text>
<text x="71.7" y="216.4" font-size="10" text-anchor="middle" fill="#1f5e9d" font-weight="normal" font-style="normal" stroke="#1f5e9d" stroke-width="0.15" >406</text>
<text x="122.7" y="201.8" font-size="10" text-anchor="middle" fill="#cc1a3a" font-weight="normal" font-style="normal" stroke="#cc1a3a" stroke-width="0.15" >15</text>
<text x="122.7" y="216.4" font-size="10" text-anchor="middle" fill="#1f5e9d" font-weight="normal" font-style="normal" stroke="#1f5e9d" stroke-width="0.15" >145</text>
<text x="176.5" y="201.8" font-size="10" text-anchor="middle" fill="#cc1a3a" font-weight="normal" font-style="normal" stroke="#cc1a3a" stroke-width="0.15" >2</text>
<text x="176.5" y="216.4" font-size="10" text-anchor="middle" fill="#1f5e9d" font-weight="normal" font-style="normal" stroke="#1f5e9d" stroke-width="0.15" >38</text>
<text x="230.4" y="201.8" font-size="10" text-anchor="middle" fill="#cc1a3a" font-weight="normal" font-style="normal" stroke="#cc1a3a" stroke-width="0.15" >1</text>
<text x="230.4" y="216.4" font-size="10" text-anchor="middle" fill="#1f5e9d" font-weight="normal" font-style="normal" stroke="#1f5e9d" stroke-width="0.15" >2</text>
<text x="308.4" y="201.8" font-size="10" text-anchor="middle" fill="#cc1a3a" font-weight="normal" font-style="normal" stroke="#cc1a3a" stroke-width="0.15" >86</text>
<text x="308.4" y="216.4" font-size="10" text-anchor="middle" fill="#1f5e9d" font-weight="normal" font-style="normal" stroke="#1f5e9d" stroke-width="0.15" >406</text>
<text x="370.2" y="201.8" font-size="10" text-anchor="middle" fill="#cc1a3a" font-weight="normal" font-style="normal" stroke="#cc1a3a" stroke-width="0.15" >12</text>
<text x="370.2" y="216.4" font-size="10" text-anchor="middle" fill="#1f5e9d" font-weight="normal" font-style="normal" stroke="#1f5e9d" stroke-width="0.15" >123</text>
<text x="435" y="201.8" font-size="10" text-anchor="middle" fill="#cc1a3a" font-weight="normal" font-style="normal" stroke="#cc1a3a" stroke-width="0.15" >2</text>
<text x="435" y="216.4" font-size="10" text-anchor="middle" fill="#1f5e9d" font-weight="normal" font-style="normal" stroke="#1f5e9d" stroke-width="0.15" >30</text>
<text x="500.4" y="201.8" font-size="10" text-anchor="middle" fill="#cc1a3a" font-weight="normal" font-style="normal" stroke="#cc1a3a" stroke-width="0.15" >0</text>
<text x="500.4" y="216.4" font-size="10" text-anchor="middle" fill="#1f5e9d" font-weight="normal" font-style="normal" stroke="#1f5e9d" stroke-width="0.15" >2</text>
<rect x="228" y="791" width="19" height="11.5" fill="#f2c5ce"/>
<line x1="229" y1="797" x2="246.2" y2="797" stroke="#c8102e" stroke-width="1.8"/>
<text x="251.6" y="800.2" font-size="10" text-anchor="start" fill="#141414" font-weight="normal" font-style="normal" stroke="#141414" stroke-width="0.25" >MUD</text>
<rect x="291.3" y="791" width="19" height="11.5" fill="#c9d7e7"/>
<line x1="292.3" y1="797" x2="309.6" y2="797" stroke="#1f4e86" stroke-width="1.8"/>
<text x="314.7" y="800.2" font-size="10" text-anchor="start" fill="#141414" font-weight="normal" font-style="normal" stroke="#141414" stroke-width="0.25" >Haplo</text>
<rect x="0.9" y="0.9" width="518.2" height="810.2" fill="none" stroke="#000" stroke-width="1.8"/>
</svg>
</body></html>
